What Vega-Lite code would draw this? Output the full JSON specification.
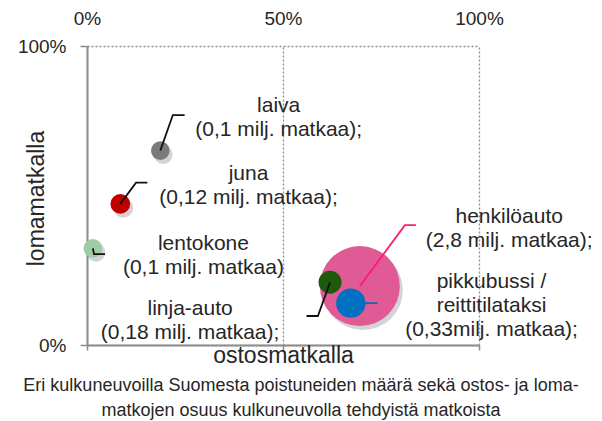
{
  "$schema": "https://vega.github.io/schema/vega-lite/v6.json",
  "width": 392,
  "height": 299,
  "autosize": {"type": "none"},
  "padding": {"left": 87, "top": 46, "right": 123, "bottom": 76},
  "background": "white",
  "config": {
    "view": {"stroke": null},
    "font": "Liberation Sans",
    "axis": {"labelFont": "Liberation Sans", "titleFont": "Liberation Sans", "labelColor": "#262626", "titleColor": "#262626", "titleFontWeight": "normal", "labelFlush": false}
  },
  "title": {
    "text": ["Eri kulkuneuvoilla Suomesta poistuneiden määrä sekä ostos- ja loma-", "matkojen osuus kulkuneuvolla tehdyistä matkoista"],
    "orient": "bottom",
    "anchor": "middle",
    "frame": "group",
    "font": "Liberation Sans",
    "fontSize": 18,
    "fontWeight": "normal",
    "color": "#262626",
    "lineHeight": 25,
    "dx": 18,
    "offset": 10
  },
  "datasets": {
    "kulku": [
      {"name": "laiva", "ostos": 18.7, "loma": 65.0, "milj": 0.1},
      {"name": "juna", "ostos": 8.5, "loma": 47.2, "milj": 0.12},
      {"name": "lentokone", "ostos": 1.5, "loma": 32.3, "milj": 0.1},
      {"name": "henkilöauto", "ostos": 69.6, "loma": 19.7, "milj": 2.8},
      {"name": "linja-auto", "ostos": 62.0, "loma": 21.0, "milj": 0.18},
      {"name": "pikkubussi / reittitilataksi", "ostos": 67.3, "loma": 14.0, "milj": 0.33}
    ],
    "viivat": [
      {"name": "laiva", "i": 0, "ostos": 18.7, "loma": 65.0},
      {"name": "laiva", "i": 1, "ostos": 21.9, "loma": 76.9},
      {"name": "laiva", "i": 2, "ostos": 24.9, "loma": 76.9},
      {"name": "juna", "i": 0, "ostos": 8.5, "loma": 47.2},
      {"name": "juna", "i": 1, "ostos": 12.5, "loma": 54.3},
      {"name": "juna", "i": 2, "ostos": 15.4, "loma": 54.3},
      {"name": "lentokone", "i": 0, "ostos": 1.5, "loma": 32.3},
      {"name": "lentokone", "i": 1, "ostos": 1.8, "loma": 30.4},
      {"name": "lentokone", "i": 2, "ostos": 4.6, "loma": 30.4},
      {"name": "linja-auto", "i": 0, "ostos": 62.0, "loma": 21.0},
      {"name": "linja-auto", "i": 1, "ostos": 58.9, "loma": 9.7},
      {"name": "linja-auto", "i": 2, "ostos": 56.0, "loma": 9.7},
      {"name": "henkilöauto", "i": 0, "ostos": 69.6, "loma": 19.7},
      {"name": "henkilöauto", "i": 1, "ostos": 81.1, "loma": 40.1},
      {"name": "henkilöauto", "i": 2, "ostos": 83.9, "loma": 40.1},
      {"name": "pikkubussi / reittitilataksi", "i": 0, "ostos": 67.3, "loma": 14.0},
      {"name": "pikkubussi / reittitilataksi", "i": 1, "ostos": 74.1, "loma": 14.0}
    ],
    "tekstit": [
      {"name": "laiva", "ostos": 48.9, "loma": 79.8, "teksti": "laiva\n(0,1 milj. matkaa);"},
      {"name": "juna", "ostos": 41.2, "loma": 57.1, "teksti": "juna\n(0,12 milj. matkaa);"},
      {"name": "lentokone", "ostos": 29.7, "loma": 33.7, "teksti": "lentokone\n(0,1 milj. matkaa)"},
      {"name": "linja-auto", "ostos": 26.3, "loma": 12.1, "teksti": "linja-auto\n(0,18 milj. matkaa);"},
      {"name": "henkilöauto", "ostos": 107.7, "loma": 42.7, "teksti": "henkilöauto\n(2,8 milj. matkaa);"},
      {"name": "pikkubussi / reittitilataksi", "ostos": 103.2, "loma": 21.1, "teksti": "pikkubussi /\nreittitilataksi\n(0,33milj. matkaa);"}
    ]
  },
  "resolve": {"axis": {"x": "independent"}},
  "layer": [
    {
      "data": {"name": "kulku"},
      "mark": {"type": "circle", "xOffset": 3, "yOffset": 4, "opacity": 0.25, "color": "#555"},
      "encoding": {
        "x": {"field": "ostos", "type": "quantitative", "scale": {"domain": [0, 100]},
          "axis": {"orient": "bottom", "values": [0, 50, 100], "labels": false, "ticks": true, "tickSize": 5, "tickColor": "#8c8c8c", "tickWidth": 1.5,
            "domain": true, "domainColor": "#8c8c8c", "domainWidth": 2, "grid": false,
            "title": "ostosmatkalla", "titleFontSize": 23, "titleY": 17, "titleBaseline": "alphabetic"}},
        "y": {"field": "loma", "type": "quantitative", "scale": {"domain": [0, 100]},
          "axis": {"orient": "left", "values": [0, 100], "labelExpr": "datum.value + '%'", "labelFontSize": 19, "labelPadding": 14,
            "ticks": true, "tickSize": 7, "tickColor": "#8c8c8c", "tickWidth": 1.5,
            "domain": true, "domainColor": "#8c8c8c", "domainWidth": 2,
            "grid": true, "gridDash": [2, 2], "gridColor": "#8c8c8c", "gridWidth": 1.3,
            "title": "lomamatkalla", "titleFontSize": 23, "titleX": -51, "titleY": 152, "titleAlign": "center", "titleBaseline": "middle", "titleAngle": -90}},
        "size": {"field": "milj", "type": "quantitative", "scale": {"domain": [0, 2.8], "range": [122, 6400], "zero": false}, "legend": null}
      }
    },
    {
      "data": {"name": "kulku"},
      "mark": {"type": "circle", "opacity": 1},
      "encoding": {
        "x": {"field": "ostos", "type": "quantitative",
          "axis": {"orient": "top", "values": [0, 50, 100], "labelExpr": "datum.value + '%'", "labelFontSize": 19, "labelPadding": 18,
            "ticks": false, "domain": false, "grid": true, "gridDash": [2, 2], "gridColor": "#8c8c8c", "gridWidth": 1.3, "title": null}},
        "y": {"field": "loma", "type": "quantitative"},
        "size": {"field": "milj", "type": "quantitative", "legend": null},
        "color": {"field": "name", "type": "nominal", "legend": null,
          "scale": {"domain": ["laiva", "juna", "lentokone", "henkilöauto", "linja-auto", "pikkubussi / reittitilataksi"],
            "range": ["#7a7a7a", "#c00000", "#9fcba6", "#e05a96", "#1e5a0c", "#0070c0"]}}
      }
    },
    {
      "data": {"name": "viivat"},
      "mark": {"type": "line", "strokeWidth": 1.8},
      "encoding": {
        "x": {"field": "ostos", "type": "quantitative", "axis": null},
        "y": {"field": "loma", "type": "quantitative"},
        "detail": {"field": "name", "type": "nominal"},
        "order": {"field": "i", "type": "quantitative"},
        "color": {"condition": [
            {"test": "datum.name === 'henkilöauto'", "value": "#ff1a75"},
            {"test": "datum.name === 'pikkubussi / reittitilataksi'", "value": "#0070c0"}
          ], "value": "#111111"}
      }
    },
    {
      "data": {"name": "tekstit"},
      "mark": {"type": "text", "fontSize": 21, "lineHeight": 24, "lineBreak": "\n", "align": "center", "baseline": "middle", "color": "#262626", "font": "Liberation Sans"},
      "encoding": {
        "x": {"field": "ostos", "type": "quantitative", "axis": null},
        "y": {"field": "loma", "type": "quantitative"},
        "text": {"field": "teksti"}
      }
    }
  ]
}
